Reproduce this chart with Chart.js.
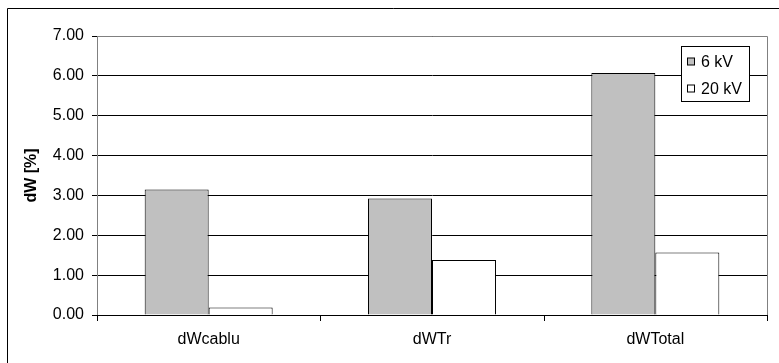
<!DOCTYPE html>
<html>
<head>
<meta charset="utf-8">
<script src="https://cdn.jsdelivr.net/npm/chart.js@4/dist/chart.umd.min.js"></script>
<style>
  html, body { margin: 0; padding: 0; background: #ffffff; }
  #wrap { position: relative; width: 779px; height: 363px; }
</style>
</head>
<body>
<div id="wrap"><canvas id="c" width="779" height="363"></canvas></div>
<script>
// Energy loss components for the two supply voltages
const categories = ['dWcablu', 'dWTr', 'dWTotal'];
const seriesNames = ['6 kV', '20 kV'];
const loss6kV = [3.15, 2.92, 6.07];
const loss20kV = [0.19, 1.38, 1.57];
const yTicks = [0, 1, 2, 3, 4, 5, 6, 7];
const yTitle = 'dW [%]';

const FONT = '"Liberation Sans", Arial, sans-serif';

// Frame around the whole chart and the grey top/right edge of the plot area
const framePlugin = {
  id: 'frame',
  beforeDraw(chart) {
    const ctx = chart.ctx;
    ctx.save();
    ctx.fillStyle = '#ffffff';
    ctx.fillRect(0, 0, chart.width, chart.height);
    ctx.strokeStyle = '#000000';
    ctx.lineWidth = 1;
    ctx.beginPath();
    ctx.moveTo(7.5, chart.height + 2);
    ctx.lineTo(7.5, 8.5);
    ctx.lineTo(chart.width + 2, 8.5);
    ctx.stroke();
    ctx.restore();
  },
  afterDatasetsDraw(chart) {
    const a = chart.chartArea;
    const ctx = chart.ctx;
    ctx.save();
    ctx.strokeStyle = '#808080';
    ctx.lineWidth = 1;
    ctx.beginPath();
    ctx.moveTo(Math.round(a.left) + 0.5, Math.round(a.top) + 0.5);
    ctx.lineTo(Math.round(a.right) + 0.5, Math.round(a.top) + 0.5);
    ctx.lineTo(Math.round(a.right) + 0.5, Math.round(a.bottom) + 0.5);
    ctx.stroke();
    // category separator ticks below the x axis
    ctx.strokeStyle = '#000000';
    ctx.beginPath();
    for (let i = 0; i <= categories.length; i++) {
      const px = Math.round(a.left + (a.right - a.left) * i / categories.length) + 0.5;
      ctx.moveTo(px, Math.round(a.bottom));
      ctx.lineTo(px, Math.round(a.bottom) + 6);
    }
    ctx.stroke();
    // x axis line
    ctx.beginPath();
    ctx.moveTo(Math.round(a.left), Math.round(a.bottom) + 0.5);
    ctx.lineTo(Math.round(a.right) + 1, Math.round(a.bottom) + 0.5);
    ctx.stroke();
    ctx.restore();
  }
};

// Boxed legend in the upper right of the plot area
const boxLegendPlugin = {
  id: 'boxLegend',
  afterDraw(chart) {
    const ctx = chart.ctx;
    const x0 = 681.5, y0 = 46.5, w = 68, h = 55;
    ctx.save();
    ctx.fillStyle = '#ffffff';
    ctx.fillRect(x0, y0, w, h);
    ctx.strokeStyle = '#000000';
    ctx.lineWidth = 1;
    ctx.strokeRect(x0, y0, w, h);
    ctx.font = '16px ' + FONT;
    ctx.textBaseline = 'middle';
    ctx.textAlign = 'left';
    chart.data.datasets.forEach((ds, i) => {
      const cy = 61.5 + i * 27;
      ctx.fillStyle = ds.backgroundColor;
      ctx.fillRect(687.5, cy - 3.5, 7, 7);
      ctx.strokeStyle = '#000000';
      ctx.strokeRect(687.5, cy - 3.5, 7, 7);
      ctx.fillStyle = '#000000';
      ctx.fillText(ds.label, 701, cy + 1);
    });
    ctx.restore();
  }
};

new Chart(document.getElementById('c'), {
  type: 'bar',
  data: {
    labels: categories,
    datasets: [
      { label: seriesNames[0], data: loss6kV, backgroundColor: '#c0c0c0', borderColor: '#000000', borderWidth: 1, borderSkipped: 'bottom' },
      { label: seriesNames[1], data: loss20kV, backgroundColor: '#ffffff', borderColor: '#000000', borderWidth: 1, borderSkipped: 'bottom' }
    ]
  },
  options: {
    responsive: false,
    animation: false,
    devicePixelRatio: 1,
    layout: { padding: { top: 36, right: 12, left: 0, bottom: 0 } },
    datasets: {
      bar: { categoryPercentage: 0.573, barPercentage: 1.0 }
    },
    plugins: {
      legend: { display: false },
      tooltip: { enabled: false }
    },
    scales: {
      x: {
        grid: { display: false, drawTicks: false },
        border: { display: false },
        ticks: { color: '#000000', font: { family: FONT, size: 16 }, padding: 15, maxRotation: 0 },
        afterFit(scale) { scale.height = 48; }
      },
      y: {
        min: 0,
        max: 7,
        afterBuildTicks(scale) { scale.ticks = yTicks.map(v => ({ value: v })); },
        grid: { color: '#000000', lineWidth: 1, tickLength: 5, drawTicks: true },
        border: { display: true, color: '#808080' },
        ticks: {
          color: '#000000',
          font: { family: FONT, size: 16 },
          padding: 8,
          callback: v => Number(v).toFixed(2)
        },
        title: {
          display: true,
          text: yTitle,
          color: '#000000',
          font: { family: FONT, size: 16, weight: 'bold' },
          padding: { top: 22, bottom: 0 }
        },
        afterFit(scale) { scale.width = 97; }
      }
    }
  },
  plugins: [framePlugin, boxLegendPlugin]
});
</script>
</body>
</html>
